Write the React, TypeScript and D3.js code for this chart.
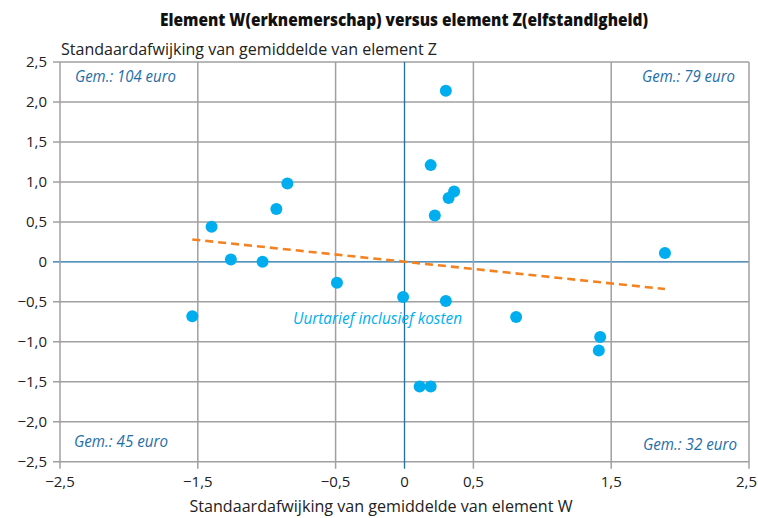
import React from "react";
import * as d3 from "d3";

const title = "Element W(erknemerschap) versus element Z(elfstandigheid)";
const yTitle = "Standaardafwijking van gemiddelde van element Z";
const xTitle = "Standaardafwijking van gemiddelde van element W";

const xValues = [0.3, 0.19, 0.36, 0.32, 0.22, -0.85, -0.93, -1.4, -1.26, -1.03, -0.49, -0.01, 0.3, -1.54, 0.81, 1.42, 1.41, 0.11, 0.19, 1.89];
const yValues = [2.14, 1.21, 0.88, 0.8, 0.58, 0.98, 0.66, 0.44, 0.03, 0.0, -0.26, -0.44, -0.49, -0.68, -0.69, -0.94, -1.11, -1.56, -1.56, 0.11];

const trendX = [-1.54, 1.89];
const trendY = [0.28, -0.34];

const xTickValues = [-2.5, -1.5, -0.5, 0, 0.5, 1.5, 2.5];
const xGridValues = [-2.5, -1.5, -0.5, 0.5, 1.5, 2.5];
const yTickValues = [-2.5, -2.0, -1.5, -1.0, -0.5, 0, 0.5, 1.0, 1.5, 2.0, 2.5];

const cornerLabels = ["Gem.: 104 euro", "Gem.: 79 euro", "Gem.: 45 euro", "Gem.: 32 euro"];
const seriesLabel = "Uurtarief inclusief kosten";

const fmt = (v: number) => {
  if (v === 0) return "0";
  const s = Math.abs(v).toFixed(1).replace(".", ",");
  return (v < 0 ? "\u2212" : "") + s;
};

export default function App() {
  const W = 758, H = 518;
  const left = 60, right = 749, top = 62, bottom = 461.7;
  const x = d3.scaleLinear().domain([-2.5, 2.5]).range([left, right]);
  const y = d3.scaleLinear().domain([-2.5, 2.5]).range([bottom, top]);
  const grid = "#a0a0a0";
  const blue = "#1f6ea8";
  const dot = "#00aeef";
  const font = "'Open Sans', 'Noto Sans', sans-serif";
  const line = d3.line<number>().x((_, i) => x(trendX[i])).y((d) => y(d));
  const italic = { fontSize: 16, fontStyle: "italic" as const, fill: blue, lengthAdjust: "spacingAndGlyphs" };

  return (
    <svg width={W} height={H} style={{ position: "absolute", left: 0, top: 0, background: "#fff" }} fontFamily={font}>
      <text x={404} y={26} textAnchor="middle" fontWeight={800} fontSize={17} fill="#111" textLength={488} lengthAdjust="spacingAndGlyphs">{title}</text>
      <text x={61} y={55} fontSize={16} fill="#222" textLength={376} lengthAdjust="spacingAndGlyphs">{yTitle}</text>
      <text x={381} y={512} textAnchor="middle" fontSize={16} fill="#222" textLength={383} lengthAdjust="spacingAndGlyphs">{xTitle}</text>

      {yTickValues.map((v) => (
        <g key={"y" + v}>
          <line x1={left - 7} x2={right} y1={y(v)} y2={y(v)} stroke={v === 0 ? blue : grid} strokeWidth={v === 0 ? 1.3 : 1.5} />
          <text x={47} y={y(v) + 5} textAnchor="end" fontSize={15} fill="#222">{fmt(v)}</text>
        </g>
      ))}
      {xGridValues.map((v) => (
        <line key={"xg" + v} x1={x(v)} x2={x(v)} y1={top} y2={bottom + 7} stroke={grid} strokeWidth={1.5} />
      ))}
      <line x1={x(0)} x2={x(0)} y1={top} y2={bottom + 7} stroke={blue} strokeWidth={1.3} />
      {xTickValues.map((v, i) => {
        const last = i === xTickValues.length - 1;
        return (
          <text key={"xt" + v} x={last ? W - 1 : x(v)} y={487} textAnchor={last ? "end" : "middle"} fontSize={15} fill="#222">{fmt(v)}</text>
        );
      })}

      <path d={line(trendY) || ""} fill="none" stroke="#f58220" strokeWidth={2.6} strokeDasharray="8 5" />

      {xValues.map((v, i) => (
        <circle key={"p" + i} cx={x(v)} cy={y(yValues[i])} r={6} fill={dot} />
      ))}

      <text x={75} y={82} textLength={101} {...italic}>{cornerLabels[0]}</text>
      <text x={642} y={82} textLength={93} {...italic}>{cornerLabels[1]}</text>
      <text x={74} y={447} textLength={94} {...italic}>{cornerLabels[2]}</text>
      <text x={643} y={450} textLength={94} {...italic}>{cornerLabels[3]}</text>
      <text x={293} y={324} fontSize={16.5} fontStyle="italic" fill={dot} textLength={169} lengthAdjust="spacingAndGlyphs">{seriesLabel}</text>
    </svg>
  );
}
